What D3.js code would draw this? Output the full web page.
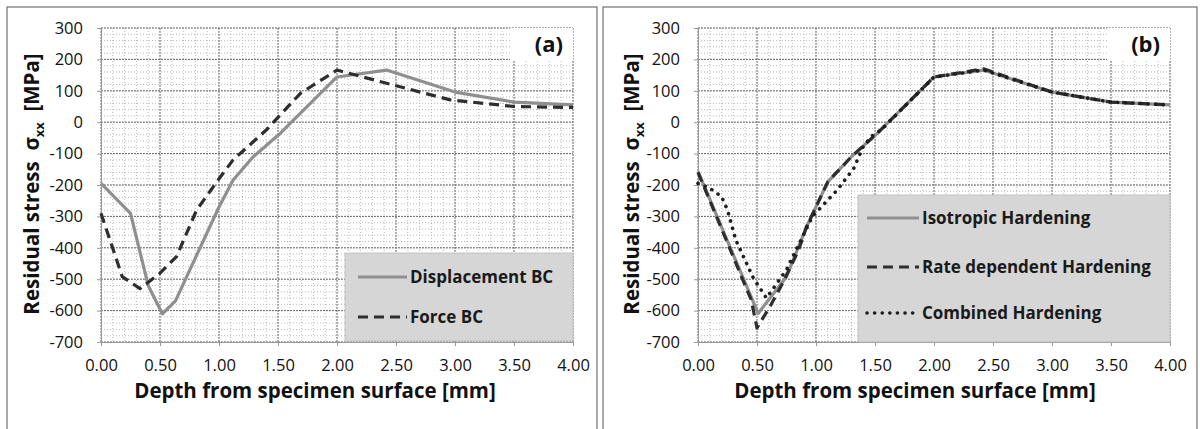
<!DOCTYPE html>
<html><head><meta charset="utf-8">
<script src="https://cdn.jsdelivr.net/npm/d3@7/dist/d3.min.js"></script>
<style>body{margin:0;background:#fff}svg{display:block}text{font-family:"Open Sans",sans-serif}</style>
</head><body><svg id="c" width="1200" height="429"></svg>
<script>
// ---- data ----
const xTickValues = [0, 0.5, 1.0, 1.5, 2.0, 2.5, 3.0, 3.5, 4.0];
const yTickValues = [-700, -600, -500, -400, -300, -200, -100, 0, 100, 200, 300];

const depthDispA  = [0, 0.25, 0.40, 0.52, 0.63, 1.00, 1.12, 1.29, 1.52, 2.00, 2.42, 3.00, 3.50, 4.00];
const stressDispA = [-195, -290, -520, -610, -570, -270, -184, -110, -35, 144, 166, 96, 64, 55];

const depthForceA  = [0, 0.18, 0.33, 0.50, 0.64, 0.81, 1.00, 1.12, 1.40, 1.69, 2.00, 2.42, 2.96, 3.50, 4.00];
const stressForceA = [-290, -492, -530, -481, -428, -280, -180, -120, -25, 92, 166, 124, 71, 50, 47];

const depthIsoB  = [0, 0.51, 0.75, 0.92, 1.10, 1.30, 1.52, 2.00, 2.42, 3.00, 3.50, 4.00];
const stressIsoB = [-157, -609, -492, -333, -190, -110, -35, 144, 166, 96, 64, 55];

const depthRateB  = [0, 0.45, 0.50, 0.61, 0.71, 0.85, 0.92, 1.10, 1.30, 1.52, 2.00, 2.42, 3.00, 3.50, 4.00];
const stressRateB = [-160, -565, -655, -587, -518, -410, -333, -190, -110, -35, 144, 170, 96, 64, 55];

const depthCombB  = [0, 0.10, 0.20, 0.25, 0.32, 0.47, 0.58, 0.75, 0.97, 1.18, 1.32, 1.40, 1.47, 1.55, 2.00, 2.42, 3.00, 3.50, 4.00];
const stressCombB = [-195, -210, -237, -280, -375, -497, -560, -470, -300, -216, -147, -78, -45, -25, 144, 166, 96, 64, 55];

const legendA = ["Displacement BC", "Force BC"];
const legendB = ["Isotropic Hardening", "Rate dependent Hardening", "Combined Hardening"];
const panelLabels = ["(a)", "(b)"];

// ---- styles ----
const styles = {
  solid:  {stroke: "#8f8f8f", width: 3.2, dash: null, cap: "butt"},
  dashed: {stroke: "#2e2e2e", width: 3.2, dash: "10,6", cap: "butt"},
  dotted: {stroke: "#1e1e1e", width: 3.6, dash: "0.1,7.5", cap: "round"}
};

const svg = d3.select("#c");
svg.append("rect").attr("width", 1200).attr("height", 429).attr("fill", "#fff");

function panel(opt) {
  const g = svg.append("g");
  g.append("rect").attr("x", opt.frame[0]).attr("y", opt.frame[1])
    .attr("width", opt.frame[2]).attr("height", opt.frame[3])
    .attr("fill", "none").attr("stroke", "#555").attr("stroke-width", 1);

  const x = d3.scaleLinear().domain([0, 4]).range([opt.x0, opt.x1]);
  const y = d3.scaleLinear().domain([-700, 300]).range([342, 28]);

  // minor grid
  const minorX = d3.range(0, 4.0001, 0.1);
  const minorY = d3.range(-700, 300.1, 20);
  g.append("g").selectAll("line").data(minorX).join("line")
    .attr("x1", d => x(d)).attr("x2", d => x(d)).attr("y1", y(300)).attr("y2", y(-700))
    .attr("stroke", "#aaa").attr("stroke-width", 0.8).attr("stroke-dasharray", "1,2");
  g.append("g").selectAll("line").data(minorY).join("line")
    .attr("y1", d => y(d)).attr("y2", d => y(d)).attr("x1", x(0)).attr("x2", x(4))
    .attr("stroke", "#aaa").attr("stroke-width", 0.8).attr("stroke-dasharray", "1,2");
  // major grid
  g.append("g").selectAll("line").data(xTickValues).join("line")
    .attr("x1", d => x(d)).attr("x2", d => x(d)).attr("y1", y(300)).attr("y2", y(-700))
    .attr("stroke", "#777").attr("stroke-width", 1).attr("stroke-dasharray", "2,1");
  g.append("g").selectAll("line").data(yTickValues).join("line")
    .attr("y1", d => y(d)).attr("y2", d => y(d)).attr("x1", x(0)).attr("x2", x(4))
    .attr("stroke", "#6a6a6a").attr("stroke-width", 1).attr("stroke-dasharray", "2,1");

  // axes
  const ax = g.append("g").attr("transform", `translate(0,${y(-700)})`)
    .call(d3.axisBottom(x).tickValues(xTickValues).tickFormat(d3.format(".2f")).tickSize(4).tickPadding(13));
  const ay = g.append("g").attr("transform", `translate(${x(0)},0)`)
    .call(d3.axisLeft(y).tickValues(yTickValues).tickFormat(d3.format("d")).tickSize(4).tickPadding(14));
  [ax, ay].forEach(a => {
    a.select(".domain").attr("stroke", "#999");
    a.selectAll(".tick line").attr("stroke", "#999");
    a.selectAll("text").attr("font-family", "'Open Sans',sans-serif").attr("font-size", 16.5).attr("fill", "#111");
  });
  ay.selectAll("text").text(d => d < 0 ? "-" + Math.abs(d) : d);

  // white box behind panel label
  g.append("rect").attr("x", opt.x1 - 63).attr("y", 28).attr("width", 63).attr("height", 32).attr("fill", "#fff");
  g.append("text").attr("x", opt.x1 - 10).attr("y", 52).attr("text-anchor", "end")
    .attr("font-size", 22).attr("font-weight", "bold").attr("fill", "#111").text(opt.label);

  // legend box
  const lb = opt.legendBox;
  g.append("rect").attr("x", lb[0]).attr("y", lb[1]).attr("width", lb[2]).attr("height", lb[3])
    .attr("fill", "#d6d6d6").attr("stroke", "#bbb").attr("stroke-width", 0.8);

  // series
  const line = d3.line().x(d => x(d[0])).y(d => y(d[1]));
  opt.series.forEach((s, i) => {
    const st = styles[s.style];
    g.append("path").datum(d3.zip(s.xs, s.ys)).attr("d", line)
      .attr("fill", "none").attr("stroke", st.stroke).attr("stroke-width", st.width)
      .attr("stroke-dasharray", st.dash).attr("stroke-linecap", st.cap).attr("stroke-linejoin", "round");
    const ly = opt.legendY[i];
    g.append("line").attr("x1", opt.legendLine[0]).attr("x2", opt.legendLine[1]).attr("y1", ly).attr("y2", ly)
      .attr("stroke", st.stroke).attr("stroke-width", st.width).attr("stroke-dasharray", st.dash).attr("stroke-linecap", st.cap);
    g.append("text").attr("x", opt.legendLine[1] + 3).attr("y", ly).attr("dy", "0.35em")
      .attr("font-size", 17).attr("font-weight", "bold").attr("fill", "#1a1a1a").text(s.name);
  });

  // axis titles
  g.append("text").attr("x", opt.xTitleX).attr("y", 398).attr("text-anchor", "middle")
    .attr("font-size", 20.5).attr("font-weight", "bold").attr("fill", "#111")
    .text("Depth from specimen surface [mm]");
  const yt = g.append("text").attr("transform", `translate(${opt.yTitleX},184) rotate(-90)`)
    .attr("text-anchor", "middle").attr("font-size", 20.5).attr("font-weight", "bold").attr("fill", "#111")
    .attr("xml:space", "preserve").style("white-space", "pre");
  yt.append("tspan").text("Residual stress  σ");
  yt.append("tspan").attr("font-size", 13).attr("dy", 5).text("xx");
  yt.append("tspan").attr("dy", -5).text("  [MPa]");
}

panel({
  frame: [7, 7, 590, 430], x0: 101, x1: 573, label: panelLabels[0],
  legendBox: [345, 253, 228, 88], legendY: [277, 317], legendLine: [358, 407],
  xTitleX: 315, yTitleX: 39,
  series: [
    {name: legendA[0], xs: depthDispA, ys: stressDispA, style: "solid"},
    {name: legendA[1], xs: depthForceA, ys: stressForceA, style: "dashed"}
  ]
});
panel({
  frame: [603, 7, 594, 430], x0: 698, x1: 1170, label: panelLabels[1],
  legendBox: [858, 195, 312, 147], legendY: [218, 267, 313], legendLine: [867, 919],
  xTitleX: 915, yTitleX: 639,
  series: [
    {name: legendB[0], xs: depthIsoB, ys: stressIsoB, style: "solid"},
    {name: legendB[1], xs: depthRateB, ys: stressRateB, style: "dashed"},
    {name: legendB[2], xs: depthCombB, ys: stressCombB, style: "dotted"}
  ]
});
</script></body></html>
